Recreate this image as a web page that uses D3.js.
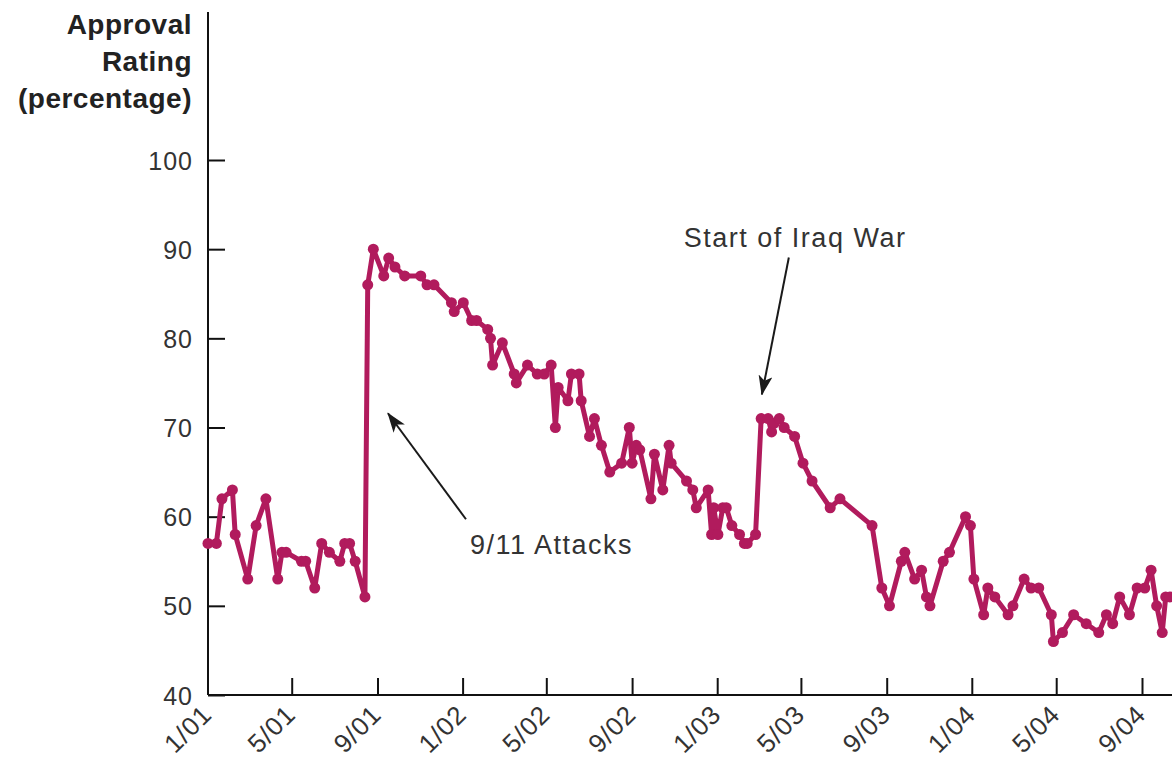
<!DOCTYPE html>
<html>
<head>
<meta charset="utf-8">
<title>Approval Rating</title>
<script src="https://d3js.org/d3.v7.min.js"></script>
<style>
  body { margin: 0; background: #fff; }
  svg { display: block; font-family: "Liberation Sans", Arial, sans-serif; }
  .axis .tick text { fill: #333; font-size: 25px; letter-spacing: 1px; }
  .x.axis .tick text { font-size: 26px; }
  .axis path, .axis line { stroke: #111; stroke-width: 2; }
  .title { fill: #222; font-size: 28px; font-weight: bold; letter-spacing: 0.5px; }
  .note { fill: #333; font-size: 27px; letter-spacing: 1.5px; }
</style>
</head>
<body>
<svg width="1172" height="762"></svg>
<script>
// poll dates and approval values
const dates = [
  "2001-01-01","2001-01-13","2001-01-21","2001-02-05","2001-02-09","2001-02-27","2001-03-11","2001-03-25",
  "2001-04-11","2001-04-17","2001-04-23","2001-05-15","2001-05-21","2001-06-03","2001-06-13","2001-06-24",
  "2001-07-09","2001-07-16","2001-07-23","2001-07-31","2001-08-14","2001-08-18","2001-08-26","2001-09-10",
  "2001-09-17","2001-09-26","2001-10-10","2001-11-02","2001-11-11","2001-11-21","2001-12-16","2001-12-20",
  "2002-01-02","2002-01-14","2002-01-21","2002-02-06","2002-02-10","2002-02-13","2002-02-27","2002-03-16",
  "2002-03-19","2002-04-04","2002-04-18","2002-04-28","2002-05-08","2002-05-14","2002-05-18","2002-06-01",
  "2002-06-06","2002-06-17","2002-06-20","2002-07-02","2002-07-09","2002-07-19","2002-07-31","2002-08-17",
  "2002-08-28","2002-09-01","2002-09-07","2002-09-12","2002-09-28","2002-10-03","2002-10-15","2002-10-24",
  "2002-10-27","2002-11-18","2002-11-27","2002-12-02","2002-12-19","2002-12-24","2002-12-27","2003-01-02",
  "2003-01-09","2003-01-14","2003-01-22","2003-02-02","2003-02-09","2003-02-13","2003-02-25","2003-03-05",
  "2003-03-15","2003-03-20","2003-03-24","2003-03-31","2003-04-07","2003-04-22","2003-05-04","2003-05-17",
  "2003-06-12","2003-06-26","2003-08-11","2003-08-25","2003-09-05","2003-09-22","2003-09-27","2003-10-11",
  "2003-10-21","2003-10-28","2003-11-02","2003-11-21","2003-11-30","2003-12-23","2003-12-30","2004-01-04",
  "2004-01-18","2004-01-24","2004-02-03","2004-02-22","2004-02-29","2004-03-16","2004-03-26","2004-04-06",
  "2004-04-24","2004-04-27","2004-05-10","2004-05-26","2004-06-13","2004-07-01","2004-07-12","2004-07-21",
  "2004-07-31","2004-08-14","2004-08-25","2004-09-05","2004-09-14","2004-09-22","2004-09-30","2004-10-05",
  "2004-10-11","2004-10-20"
];
const ratings = [
  57, 57, 62, 63, 58, 53, 59, 62,
  53, 56, 56, 55, 55, 52, 57, 56,
  55, 57, 57, 55, 51, 86, 90, 87,
  89, 88, 87, 87, 86, 86, 84, 83,
  84, 82, 82, 81, 80, 77, 79.5, 76,
  75, 77, 76, 76, 77, 70, 74.5, 73,
  76, 76, 73, 69, 71, 68, 65, 66,
  70, 66, 68, 67.5, 62, 67, 63, 68,
  66, 64, 63, 61, 63, 58, 61, 58,
  61, 61, 59, 58, 57, 57, 58, 71,
  71, 69.5, 70.5, 71, 70, 69, 66, 64,
  61, 62, 59, 52, 50, 55, 56, 53,
  54, 51, 50, 55, 56, 60, 59, 53,
  49, 52, 51, 49, 50, 53, 52, 52,
  49, 46, 47, 49, 48, 47, 49, 48,
  51, 49, 52, 52, 54, 50, 47, 51,
  51, 51
];

const yTicks = [40, 50, 60, 70, 80, 90, 100];
const xTickDates = ["2001-01-01","2001-05-01","2001-09-01","2002-01-01","2002-05-01","2002-09-01",
                    "2003-01-01","2003-05-01","2003-09-01","2004-01-01","2004-05-01","2004-09-01"];
const titleLines = ["Approval", "Rating", "(percentage)"];

// annotation: arrow tip at a date/value, text and tail offset from the tip
const notes = [
  { label: "Start of Iraq War", date: "2003-03-06", value: 73.7, tail: [27, -137], text: [-78, -148] },
  { label: "9/11 Attacks", date: "2001-09-16", value: 71.6, tail: [78, 106], text: [82, 141] }
];

const width = 1172, height = 762;
const plotLeft = 208, plotBottom = 695, plotTop = 160;
const color = "#b11b5d";

const parse = d3.timeParse("%Y-%m-%d");
const data = dates.map((d, i) => ({ date: parse(d), value: ratings[i] }));

const svg = d3.select("svg");

const x = d3.scaleTime()
    .domain([parse("2001-01-01"), parse("2004-09-01")])
    .range([plotLeft, 1142]);

const y = d3.scaleLinear()
    .domain([40, 100])
    .range([plotBottom, plotTop]);

// y axis, ticks pointing inside
const yAxis = svg.append("g")
    .attr("class", "y axis")
    .attr("transform", "translate(" + plotLeft + ",0)")
    .call(d3.axisLeft(y).tickValues(yTicks).tickSize(-17).tickPadding(15));
yAxis.select(".domain").remove();
yAxis.append("line")
    .attr("x1", 0).attr("x2", 0)
    .attr("y1", plotBottom).attr("y2", 12);
yAxis.selectAll(".tick text").attr("dy", "0.36em");

// x axis
const xAxis = svg.append("g")
    .attr("class", "x axis")
    .attr("transform", "translate(0," + plotBottom + ")")
    .call(d3.axisBottom(x)
        .tickValues(xTickDates.map(parse))
        .tickFormat(d3.timeFormat("%-m/%y"))
        .tickSize(-17));
xAxis.select(".domain").remove();
xAxis.append("line")
    .attr("x1", plotLeft).attr("x2", width)
    .attr("y1", 0).attr("y2", 0);
xAxis.selectAll(".tick")
    .filter(d => +d === +parse("2001-01-01"))
    .select("line").remove();
xAxis.selectAll(".tick text")
    .attr("text-anchor", "end")
    .attr("dy", null)
    .attr("y", null)
    .attr("transform", "translate(5,21) rotate(-45)");

// axis title
svg.append("text")
    .attr("class", "title")
    .attr("text-anchor", "end")
    .selectAll("tspan")
    .data(titleLines)
    .join("tspan")
    .attr("x", 192)
    .attr("y", (d, i) => 34 + i * 37)
    .text(d => d);

// line and dots
const line = d3.line()
    .x(d => x(d.date))
    .y(d => y(d.value));

svg.append("path")
    .datum(data)
    .attr("fill", "none")
    .attr("stroke", color)
    .attr("stroke-width", 5)
    .attr("stroke-linejoin", "round")
    .attr("d", line);

svg.append("g")
    .selectAll("circle")
    .data(data)
    .join("circle")
    .attr("cx", d => x(d.date))
    .attr("cy", d => y(d.value))
    .attr("r", 5.5)
    .attr("fill", color);

// arrows
svg.append("defs").append("marker")
    .attr("id", "head")
    .attr("viewBox", "0 0 20 14")
    .attr("refX", 19)
    .attr("refY", 7)
    .attr("markerWidth", 20)
    .attr("markerHeight", 14)
    .attr("markerUnits", "userSpaceOnUse")
    .attr("orient", "auto")
    .append("path")
    .attr("d", "M0,0 L20,7 L0,14 L5,7 Z")
    .attr("fill", "#1a1a1a");

notes.forEach(n => {
    const tx = x(parse(n.date)), ty = y(n.value);
    svg.append("line")
        .attr("x1", tx + n.tail[0]).attr("y1", ty + n.tail[1])
        .attr("x2", tx).attr("y2", ty)
        .attr("stroke", "#1a1a1a")
        .attr("stroke-width", 2)
        .attr("marker-end", "url(#head)");
    svg.append("text")
        .attr("class", "note")
        .attr("x", tx + n.text[0])
        .attr("y", ty + n.text[1])
        .text(n.label);
});
</script>
</body>
</html>
